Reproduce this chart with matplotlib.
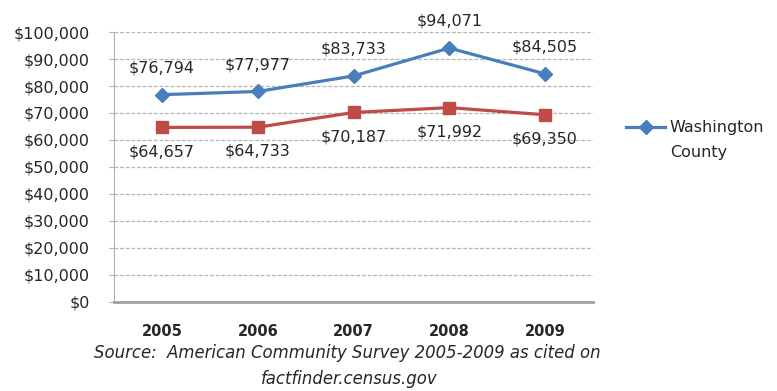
import numpy as np
import matplotlib.pyplot as plt

plt.rcParams['font.family'] = ['DejaVu Sans']

years = ["2005", "2006", "2007", "2008", "2009"]
washington = [76794, 77977, 83733, 94071, 84505]
comparison = [64657, 64733, 70187, 71992, 69350]
y_ticks = np.arange(0, 100001, 10000)

blue = "#4a7ebb"
red = "#be4b48"
text_color = "#262626"

fig = plt.figure(figsize=(7.77, 3.91), dpi=100)
ax = fig.add_axes([0.147, 0.228, 0.616, 0.690])

x = np.arange(len(years))
ax.plot(x, washington, color=blue, lw=2.3, marker="D", ms=7, mec=blue,
        label="Washington", zorder=3)
ax.plot(x, comparison, color=red, lw=2.3, marker="s", ms=9, mec=red,
        label="_nolegend_", zorder=3)

for xi, v in zip(x, washington):
    ax.annotate(f"${v:,}", (xi, v), xytext=(0, 14), textcoords="offset points",
                ha="center", va="bottom", fontsize=11.5, color=text_color)
for xi, v in zip(x, comparison):
    ax.annotate(f"${v:,}", (xi, v), xytext=(0, -12), textcoords="offset points",
                ha="center", va="top", fontsize=11.5, color=text_color)

ax.set_xlim(-0.5, len(years) - 0.5)
ax.set_ylim(0, 100000)
ax.set_yticks(y_ticks)
ax.set_yticklabels([f"${v:,}" for v in y_ticks], fontsize=11.5, color=text_color)
ax.set_xticks(x)
ax.set_xticklabels(years, fontsize=10.5, fontweight="bold", color=text_color)
ax.tick_params(axis="x", length=0, pad=16)
ax.tick_params(axis="y", length=3.6, color="#b0b0b0", pad=14)

ax.yaxis.grid(True, color="#b5b5b5", ls=(0, (3, 1.5)), lw=0.9)
ax.set_axisbelow(True)
for side in ["top", "right"]:
    ax.spines[side].set_visible(False)
ax.spines["left"].set_color("#b0b0b0")
ax.spines["bottom"].set_color("#a0a0a0")
ax.spines["bottom"].set_linewidth(2)

ax.legend(loc="center left", bbox_to_anchor=(1.04, 0.645), frameon=False,
          fontsize=11.5, handlelength=2.4, handletextpad=0.3,
          labelcolor=text_color)
# second line of the legend label
fig.text(0.862, 0.611, "County", ha="left", va="center",
         fontsize=11.5, color=text_color)

fig.text(0.447, 0.097, "Source:  American Community Survey 2005-2009 as cited on",
         ha="center", va="center", fontsize=11.9, style="italic", color=text_color)
fig.text(0.449, 0.031, "factfinder.census.gov",
         ha="center", va="center", fontsize=11.9, style="italic", color=text_color)

fig.savefig("out.png", dpi=100)
